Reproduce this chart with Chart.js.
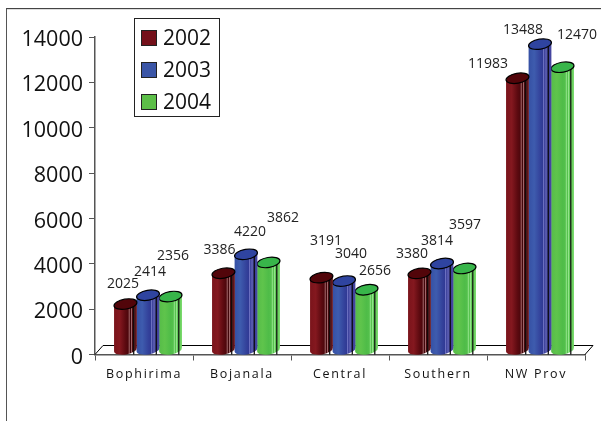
<!DOCTYPE html>
<html>
<head>
<meta charset="utf-8">
<script src="https://cdn.jsdelivr.net/npm/chart.js@4"></script>
<style>
  html, body { margin: 0; padding: 0; background: #fff; }
  #frame { position: absolute; left: 6px; top: 8px; right: 0; bottom: 0; border-left: 1px solid #555; border-top: 1px solid #444; box-shadow: inset 0 1px 0 #ddd; }
  #wrap { position: absolute; left: 0; top: 0; width: 601px; height: 421px; }
</style>
</head>
<body>
<div id="frame"></div>
<div id="wrap"><canvas id="chart"></canvas></div>
<script>
const categories = ['Bophirima', 'Bojanala', 'Central', 'Southern', 'NW Prov'];
const years = ['2002', '2003', '2004'];
const values2002 = [2025, 3386, 3191, 3380, 11983];
const values2003 = [2414, 4220, 3040, 3814, 13488];
const values2004 = [2356, 3862, 2656, 3597, 12470];

// hand placed value labels, offset from the bar's top centre
const labelDx = [[-2.5, -4, 4.5, -7.5, -29.5], [2, 4, 7, -5, -17], [2.5, 14.5, 8.5, 0.5, 14.5]];
const labelDy = [[-25, -28, -41, -24, -19], [-28, -27, -32, -27, -19], [-45, -49, -23, -48, -37]];

const FONT = '"Open Sans", "Noto Sans", sans-serif';
const DEPTH_X = 8, DEPTH_Y = 9;

const palette = [
  { base: '#74101a', stops: ['#7a141b', '#84181f', '#5c0a10', '#3c0408', '#6a1a20'], top: '#52050a', stripe: 'rgba(255,200,200,0.65)' },
  { base: '#3a55a6', stops: ['#3550a4', '#3e5cae', '#34439c', '#2c2f8c', '#4a4aa4'], top: '#2f44a0', stripe: 'rgba(190,190,255,0.7)' },
  { base: '#5cbf48', stops: ['#56bc48', '#5fc44c', '#4fbc48', '#58c450', '#74d866'], top: '#38b54a', stripe: 'rgba(200,255,190,0.7)' }
];

function drawCylinder(ctx, x, yTop, yBase, w, style) {
  const rx = w / 2 + 0.3, ry = 5, rot = -0.17;
  const dx = rx * Math.cos(rot), dy = rx * Math.sin(rot);
  const cyT = yTop - DEPTH_Y / 2, cyB = yBase - DEPTH_Y / 2;

  ctx.save();
  ctx.beginPath();
  ctx.moveTo(x - dx, cyT - dy);
  ctx.lineTo(x - dx, cyB - dy);
  ctx.ellipse(x, cyB, rx, ry, rot, Math.PI, 0, true);
  ctx.lineTo(x + dx, cyT + dy);
  ctx.closePath();
  const g = ctx.createLinearGradient(x - rx, 0, x + rx, 0);
  style.stops.forEach((c, i) => g.addColorStop(i / (style.stops.length - 1), c));
  ctx.fillStyle = g;
  ctx.fill();

  // thin facet lines on the right of the cylinder
  ctx.save();
  ctx.clip();
  ctx.strokeStyle = style.stripe;
  ctx.lineWidth = 0.8;
  [0.68, 0.78, 0.88].forEach(f => {
    const sx = x - rx + w * f;
    ctx.beginPath();
    ctx.moveTo(sx, cyT);
    ctx.lineTo(sx, cyB + ry);
    ctx.stroke();
  });
  ctx.restore();

  ctx.strokeStyle = '#000';
  ctx.lineWidth = 1.2;
  ctx.stroke();

  ctx.beginPath();
  ctx.ellipse(x, cyT, rx, ry, rot, 0, Math.PI * 2);
  ctx.fillStyle = style.top;
  ctx.fill();
  ctx.stroke();
  ctx.restore();
}

const cylinderPlugin = {
  id: 'cylinders',
  beforeDraw(chart) {
    // letter spaced category labels, the y axis keeps normal spacing
    const xs = chart.scales.x;
    if (!xs._spaced) {
      const orig = xs.drawLabels;
      xs.drawLabels = function(area) {
        chart.ctx.save();
        chart.ctx.letterSpacing = '1.7px';
        orig.call(this, area);
        chart.ctx.restore();
      };
      xs._spaced = true;
    }
  },
  beforeDatasetsDraw(chart) {
    const ctx = chart.ctx, a = chart.chartArea;
    ctx.save();
    ctx.strokeStyle = '#000';
    ctx.lineWidth = 1;
    ctx.beginPath();
    ctx.moveTo(a.left, a.bottom);
    ctx.lineTo(a.left + DEPTH_X, a.bottom - DEPTH_Y);
    ctx.lineTo(a.right + DEPTH_X, a.bottom - DEPTH_Y);
    ctx.lineTo(a.right, a.bottom);
    ctx.stroke();
    ctx.restore();
  },
  beforeDatasetDraw(chart, args) {
    const ctx = chart.ctx;
    const meta = chart.getDatasetMeta(args.index);
    meta.data.forEach(bar => {
      drawCylinder(ctx, bar.x + DEPTH_X / 2, bar.y, bar.base, bar.width, palette[args.index]);
    });
    return false;
  },
  afterDatasetsDraw(chart) {
    const ctx = chart.ctx;
    ctx.save();
    ctx.fillStyle = '#222';
    ctx.font = '14px ' + FONT;
    ctx.textAlign = 'center';
    ctx.textBaseline = 'middle';
    chart.data.datasets.forEach((ds, i) => {
      chart.getDatasetMeta(i).data.forEach((bar, j) => {
        ctx.fillText(String(ds.data[j]), bar.x + DEPTH_X / 2 + labelDx[i][j], bar.y + labelDy[i][j]);
      });
    });

    // legend box
    const lx = 134.5, ly = 18.5, lw = 85, lh = 98;
    ctx.strokeStyle = '#222';
    ctx.lineWidth = 1;
    ctx.fillStyle = '#fff';
    ctx.fillRect(lx, ly, lw, lh);
    ctx.strokeRect(lx, ly, lw, lh);
    ctx.textAlign = 'left';
    ctx.font = '21px ' + FONT;
    chart.data.datasets.forEach((ds, i) => {
      const sy = 30.5 + i * 32;
      ctx.fillStyle = ds.backgroundColor;
      ctx.fillRect(141.5, sy, 15, 15);
      ctx.strokeStyle = '#222';
      ctx.strokeRect(141.5, sy, 15, 15);
      ctx.fillStyle = '#111';
      ctx.fillText(ds.label, 163, sy + 8.5);
    });
    ctx.restore();
  }
};

new Chart(document.getElementById('chart'), {
  type: 'bar',
  data: {
    labels: categories,
    datasets: [
      { label: years[0], data: values2002, backgroundColor: palette[0].base },
      { label: years[1], data: values2003, backgroundColor: palette[1].base },
      { label: years[2], data: values2004, backgroundColor: palette[2].base }
    ]
  },
  options: {
    responsive: true,
    maintainAspectRatio: false,
    animation: false,
    categoryPercentage: 0.69,
    barPercentage: 1,
    layout: { padding: { top: 37, right: 16, left: 0, bottom: 0 } },
    plugins: { legend: { display: false }, tooltip: { enabled: false } },
    scales: {
      x: {
        grid: { drawOnChartArea: false, color: '#555', tickLength: 6 },
        border: { color: '#555', width: 1.5 },
        ticks: { color: '#111', font: { family: FONT, size: 12.5 }, padding: 6, maxRotation: 0 },
        afterFit: s => { s.height = 66.5; }
      },
      y: {
        min: 0,
        max: 14000,
        grid: { drawOnChartArea: false, color: '#555', tickLength: 6 },
        border: { color: '#555', width: 1.5 },
        ticks: {
          stepSize: 2000,
          color: '#111',
          font: { family: FONT, size: 21.5 },
          padding: 6,
          labelOffset: 3,
          callback: value => String(value)
        },
        afterFit: s => { s.width = 95; }
      }
    }
  },
  plugins: [cylinderPlugin]
});
</script>
</body>
</html>
